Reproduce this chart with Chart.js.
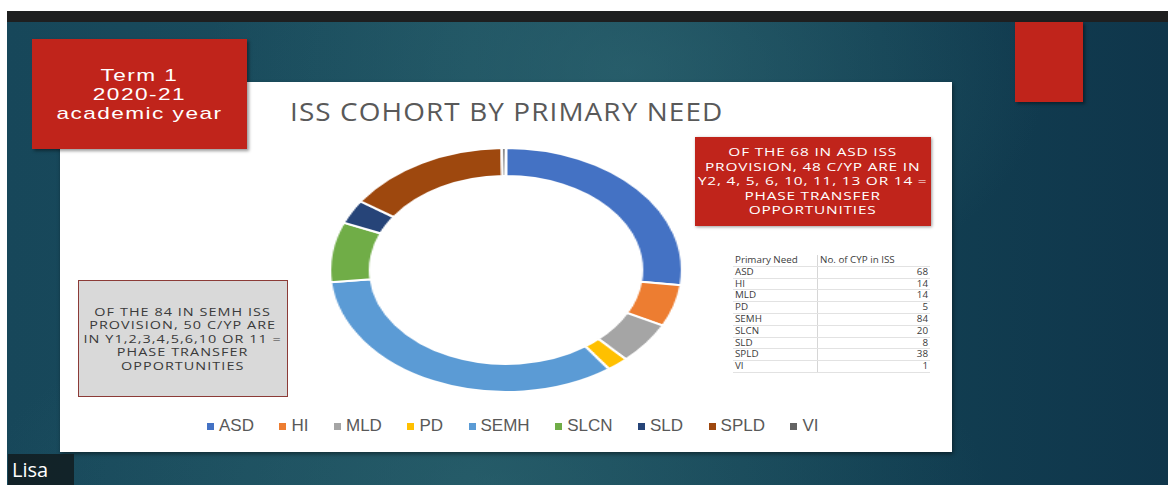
<!DOCTYPE html>
<html>
<head>
<meta charset="utf-8">
<title>ISS cohort by primary need</title>
<script src="https://cdn.jsdelivr.net/npm/chart.js@4.4.1/dist/chart.umd.min.js"></script>
<style>
  html, body { margin: 0; padding: 0; }
  body {
    width: 1168px; height: 485px; overflow: hidden; position: relative;
    background: #fff;
    font-family: "Lato", "Open Sans", sans-serif;
  }
  #stage {
    position: absolute; left: 7px; top: 11px; width: 1161px; height: 474px;
    background:
      radial-gradient(ellipse 420px 260px at 620px 60px, rgba(52,110,120,0.55), rgba(52,110,120,0) 100%),
      radial-gradient(ellipse 500px 200px at 480px 470px, rgba(48,105,115,0.5), rgba(48,105,115,0) 100%),
      linear-gradient(90deg, #17475a 0%, #1b4e5e 40%, #123f52 75%, #0f364b 100%);
  }
  #topbar { position: absolute; left: 7px; top: 11px; width: 1161px; height: 11px; background: #1e1f20; }
  .box { position: absolute; display: flex; align-items: center; justify-content: center; text-align: center;
    font-family: "Open Sans", sans-serif; }
  .box > div { white-space: nowrap; transform-origin: 50% 50%; }
  #panel { position: absolute; left: 60px; top: 82px; width: 892px; height: 370px; background: #fff;
    box-shadow: 1px 2px 4px rgba(0,0,0,0.45); }
  #term { left: 32px; top: 39px; width: 215px; height: 110px; background: #c0241b; color: #fff;
    font-family: "Liberation Sans", sans-serif; font-size: 17px; line-height: 19px; letter-spacing: 1.1px;
    box-shadow: 2px 2px 3px rgba(0,0,0,0.4); }
  #term > div { transform: scaleX(1.33); }
  #corner { position: absolute; left: 1015px; top: 22px; width: 68px; height: 80px; background: #c0241b;
    box-shadow: 2px 2px 3px rgba(0,0,0,0.4); }
  #title { position: absolute; left: 290px; top: 94px; font-family: "Open Sans", sans-serif; font-size: 25px;
    color: #595959; letter-spacing: 1px; white-space: nowrap; transform: scaleX(1.115); transform-origin: 0 50%; }
  #asdNote { left: 695px; top: 137px; width: 236px; height: 89px; background: #c0241b; color: #fff;
    font-size: 11.5px; line-height: 14.5px; letter-spacing: 0.6px; box-shadow: 1px 1px 3px rgba(0,0,0,0.4); }
  #asdNote > div { transform: scaleX(1.34); }
  #semhNote { left: 78px; top: 280px; width: 208px; height: 115px; background: #d9d9d9; color: #3a3a3a;
    border: 1.5px solid #8c3b37; font-size: 11px; line-height: 13.4px; letter-spacing: 0.8px; }
  #semhNote > div { transform: scaleX(1.31); }
  #ring { position: absolute; left: 383px; top: 147px; width: 246px; height: 246px;
    transform: scaleX(1.445); transform-origin: 50% 50%; }
  #legend { position: absolute; left: 207px; top: 416px; display: flex; gap: 25.5px;
    font-family: "Liberation Sans", sans-serif; font-size: 17px; color: #595959; }
  #legend span.item { display: flex; align-items: center; gap: 5px; }
  #legend i { display: inline-block; width: 7px; height: 7px; }
  #needTable { position: absolute; left: 733px; top: 255px; border-collapse: collapse;
    font-family: "Open Sans", sans-serif; font-size: 9.8px; }
  #needTable td { height: 10.8px; padding: 0 2px; border-bottom: 1px solid #e2e2e2; line-height: 10.8px; color: #3c3c3c; }
  #needTable td:first-child { width: 80px; border-right: 1px solid #d6d6d6; }
  #needTable td:last-child { width: 108px; text-align: right; }
  #needTable tr:first-child td:last-child { text-align: left; }
  #lisa { position: absolute; left: 8px; top: 454px; width: 66px; height: 31px; background: rgba(18,28,32,0.85);
    color: #fff; font-family: "Open Sans", sans-serif; font-size: 20px; line-height: 31px; padding-left: 4px;
    box-sizing: border-box; }
</style>
</head>
<body>
<div id="stage"></div>
<div id="topbar"></div>
<div id="panel"></div>
<div id="corner"></div>
<div class="box" id="term"><div>Term 1<br>2020-21<br>academic year</div></div>
<div id="title">ISS COHORT BY PRIMARY NEED</div>
<div class="box" id="asdNote"><div>OF THE 68 IN ASD ISS<br>PROVISION, 48 C/YP ARE IN<br>Y2, 4, 5, 6, 10, 11, 13 OR 14 =<br>PHASE TRANSFER<br>OPPORTUNITIES</div></div>
<div class="box" id="semhNote"><div>OF THE 84 IN SEMH ISS<br>PROVISION, 50 C/YP ARE<br>IN Y1,2,3,4,5,6,10 OR 11 =<br>PHASE TRANSFER<br>OPPORTUNITIES</div></div>
<div id="ring"><canvas id="needChart"></canvas></div>
<div id="legend"></div>
<table id="needTable"></table>
<div id="lisa">Lisa</div>

<script>
const needs = ['ASD', 'HI', 'MLD', 'PD', 'SEMH', 'SLCN', 'SLD', 'SPLD', 'VI'];
const cypCounts = [68, 14, 14, 5, 84, 20, 8, 38, 1];
const needColours = ['#4472c4', '#ed7d31', '#a5a5a5', '#ffc000', '#5b9bd5', '#70ad47', '#264478', '#9e480e', '#636363'];
const tableHeader = ['Primary Need', 'No. of CYP in ISS'];

window.onload = function() {
    var ctx = document.getElementById('needChart').getContext('2d');
    var needChart = new Chart(ctx, {
        type: 'doughnut',
        data: {
            labels: needs,
            datasets: [{
                data: cypCounts,
                backgroundColor: needColours,
                borderColor: '#ffffff',
                borderWidth: 2
            }]
        },
        options: {
            responsive: true,
            maintainAspectRatio: false,
            animation: false,
            cutout: '77%',
            layout: { padding: 0 },
            plugins: {
                legend: { display: false },
                tooltip: { enabled: false }
            }
        }
    });

    // legend below the ring, built from the chart's own legend items
    const legendBox = document.getElementById('legend');
    const items = needChart.options.plugins.legend.labels.generateLabels(needChart);
    items.forEach(function(item) {
        const span = document.createElement('span');
        span.className = 'item';
        span.innerHTML = '<i style="background:' + item.fillStyle + '"></i>' + item.text;
        legendBox.appendChild(span);
    });

    // data table on the right
    const table = document.getElementById('needTable');
    let rows = '<tr><td>' + tableHeader[0] + '</td><td>' + tableHeader[1] + '</td></tr>';
    needs.forEach(function(need, i) {
        rows += '<tr><td>' + need + '</td><td>' + cypCounts[i] + '</td></tr>';
    });
    table.innerHTML = rows;
};
</script>
</body>
</html>
